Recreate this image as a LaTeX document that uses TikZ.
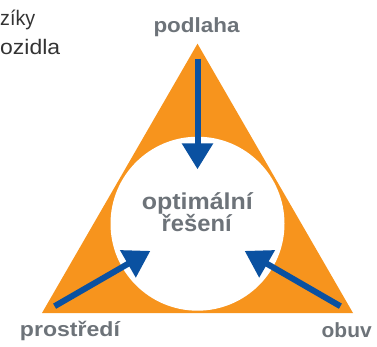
\documentclass[tikz,border=0pt]{standalone}
\usepackage{fontspec}
\setmainfont{Liberation Sans}
\usetikzlibrary{arrows.meta,calc}

\definecolor{triorange}{HTML}{F7941D}
\definecolor{arrowblue}{HTML}{0A51A1}
\definecolor{labelgray}{HTML}{6D7379}
\definecolor{notegray}{HTML}{333333}

% set a word to a given width, keeping its height
\newcommand{\fitw}[2]{\resizebox{#1}{\height}{#2}}

\begin{document}
\begin{tikzpicture}[x=1pt,y=-1pt,
  factor/.style={font=\bfseries\fontsize{20.5}{20.5}\selectfont,
                 text=labelgray, inner sep=0pt, anchor=base},
  goal/.style={font=\bfseries\fontsize{23}{23}\selectfont,
               text=labelgray, inner sep=0pt, anchor=base},
  note/.style={font=\fontsize{21}{21}\selectfont, text=notegray,
               inner sep=0pt, anchor=base west},
  push/.style={draw=arrowblue, line width=6pt,
               -{Triangle[width=30pt,length=26pt]}}
]
\useasboundingbox (0,0) rectangle (377,347);

% triangle with the white circle inside
\coordinate (c) at (197.5,223.7);
\fill[triorange] (42,313) -- (353,313) -- (197.5,43.7) -- cycle;
\fill[white] (c) circle (87pt);

% arrow ends: tails near the corners, tips at the circle
\coordinate (tailTop)   at ($(c)+(270:165)$);
\coordinate (tailLeft)  at ($(c)+(150:165)$);
\coordinate (tailRight) at ($(c)+(30:165)$);
\coordinate (tipTop)    at ($(c)+(270:54.4)$);
\coordinate (tipLeft)   at ($(c)+(150:54.4)$);
\coordinate (tipRight)  at ($(c)+(30:54.4)$);

\draw[push] (tailTop) -- (tipTop);
\draw[push] (tailLeft) -- (tipLeft);
\draw[push] (tailRight) -- (tipRight);

% labels
\node[factor] (podlaha) at (196.5,32.7) {\fitw{86pt}{podlaha}};
\node[factor] (prostredi) at (70,336.5) {\fitw{100pt}{prostředí}};
\node[factor] (obuv) at (346.7,337) {\fitw{50pt}{obuv}};
\node[goal] (goal1) at (197.3,210) {\fitw{111pt}{optimální}};
\node[goal] (goal2) at (196.7,231) {\fitw{70pt}{řešení}};

% side note at the left edge
\node[note] (note1) at (0,25.5) {\fitw{35pt}{zíky}};
\node[note] (note2) at (0,55) {\fitw{60pt}{ozidla}};
\end{tikzpicture}
\end{document}
